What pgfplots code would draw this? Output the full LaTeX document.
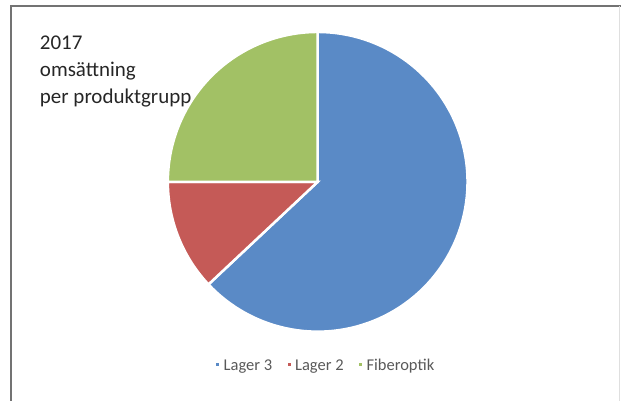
\documentclass[border=0pt]{standalone}
\usepackage{pgfplots}
\pgfplotsset{compat=1.18}
\usepackage{fontspec}
\setmainfont{Carlito}
\definecolor{cblue}{HTML}{5A8AC6}
\definecolor{cred}{HTML}{C55A57}
\definecolor{cgreen}{HTML}{A2C165}
\definecolor{ctext}{HTML}{595959}
\begin{document}
\begin{tikzpicture}
% values (percent)
\def\va{63}\def\vb{12}\def\vc{25}
\pgfmathsetmacro\aA{90}
\pgfmathsetmacro\aB{90-3.6*\va}
\pgfmathsetmacro\aC{\aB-3.6*\vb}
\pgfmathsetmacro\aD{\aC-3.6*\vc}
\begin{axis}[
  scale only axis, width=622pt, height=401pt,
  xmin=-2.12, xmax=2.0267, ymin=-1.46, ymax=1.2133,
  hide axis, clip=false,
  legend columns=3,
  legend style={draw=none, fill=none, font=\fontsize{16.5}{18}\selectfont\color{ctext},
    at={(rel axis cs:0.523,0.087)}, anchor=center,
    /tikz/every even column/.append style={column sep=11pt}},
  legend image code/.code={\fill[#1] (0pt,-1pt) rectangle (5.5pt,4.5pt);},
]
\path (rel axis cs:0,0) rectangle (rel axis cs:1,1);
\addplot[fill=cblue, draw=white, line width=2.5pt, domain=\aA:\aB, samples=100] ({cos(x)},{sin(x)}) -- (axis cs:0,0) -- cycle;
\addplot[fill=cred, draw=white, line width=2.5pt, domain=\aB:\aC, samples=40] ({cos(x)},{sin(x)}) -- (axis cs:0,0) -- cycle;
\addplot[fill=cgreen, draw=white, line width=2.5pt, domain=\aC:\aD, samples=60] ({cos(x)},{sin(x)}) -- (axis cs:0,0) -- cycle;
\legend{Lager 3, Lager 2, Fiberoptik}
\draw[gray!90!black, line width=1.2pt] (rel axis cs:0.0177,0) -- (rel axis cs:0.0177,0.985) -- (rel axis cs:1,0.985);
\draw[gray!25, line width=0.8pt] (rel axis cs:0.997,0) -- (rel axis cs:0.997,0.985);
\node[anchor=north west, align=left, font=\fontsize{21}{27}\selectfont, text=black!85, inner sep=0pt]
  at (rel axis cs:0.064,0.91) {2017\\oms\"attning\\per produktgrupp};
\end{axis}
\end{tikzpicture}
\end{document}
